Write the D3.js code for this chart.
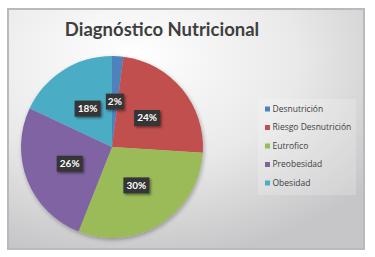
<!DOCTYPE html>
<html>
<head>
<meta charset="utf-8">
<script src="https://cdn.jsdelivr.net/npm/d3@7"></script>
<style>
  body { margin: 0; background: #fff; }
  svg { display: block; }
</style>
</head>
<body>
<div id="chart"></div>
<script>
const categories = ["Desnutrición", "Riesgo Desnutrición", "Eutrofico", "Preobesidad", "Obesidad"];
const values = [2, 24, 30, 26, 18];
const colors = ["#4f81bd", "#c0504d", "#9bbb59", "#8064a2", "#4bacc6"];

const width = 375, height = 257;
const cx = 112, cy = 147, radius = 91;

const svg = d3.select("#chart").append("svg")
    .attr("width", width)
    .attr("height", height);

const defs = svg.append("defs");
const grad = defs.append("radialGradient")
    .attr("id", "bg")
    .attr("cx", "35%").attr("cy", "20%").attr("r", "85%");
grad.append("stop").attr("offset", "0%").attr("stop-color", "#ffffff");
grad.append("stop").attr("offset", "55%").attr("stop-color", "#e9e9e9");
grad.append("stop").attr("offset", "100%").attr("stop-color", "#c6c6c8");

const shadow = defs.append("filter").attr("id", "shadow")
    .attr("x", "-20%").attr("y", "-20%").attr("width", "140%").attr("height", "140%");
shadow.append("feDropShadow")
    .attr("dx", 1).attr("dy", 2).attr("stdDeviation", 2)
    .attr("flood-color", "#000").attr("flood-opacity", 0.3);

const lblShadow = defs.append("filter").attr("id", "lblshadow")
    .attr("x", "-30%").attr("y", "-30%").attr("width", "160%").attr("height", "160%");
lblShadow.append("feDropShadow")
    .attr("dx", 1.5).attr("dy", 1.5).attr("stdDeviation", 1)
    .attr("flood-color", "#000").attr("flood-opacity", 0.45);

// frame
svg.append("rect")
    .attr("x", 8).attr("y", 9)
    .attr("width", 356).attr("height", 240)
    .attr("fill", "url(#bg)")
    .attr("stroke", "#b9b9c1")
    .attr("stroke-width", 2);

svg.append("text")
    .attr("x", 162).attr("y", 36)
    .attr("text-anchor", "middle")
    .attr("font-family", "Lato, 'Open Sans', sans-serif")
    .attr("font-weight", "bold")
    .attr("font-size", 18.5)
    .attr("fill", "#3f3f3f")
    .text("Diagnóstico Nutricional");

const pie = d3.pie().sort(null).value(d => d)(values);
const arc = d3.arc().innerRadius(0).outerRadius(radius);
const labelArc = d3.arc().innerRadius(radius * 0.5).outerRadius(radius * 0.5);

const g = svg.append("g").attr("transform", `translate(${cx},${cy})`);

g.append("g")
    .attr("filter", "url(#shadow)")
    .selectAll("path")
    .data(pie)
    .enter()
    .append("path")
    .attr("d", arc)
    .attr("fill", (d, i) => colors[i]);

const labels = g.selectAll(".lbl")
    .data(pie)
    .enter()
    .append("g")
    .attr("class", "lbl")
    .attr("transform", d => `translate(${labelArc.centroid(d)})`);

labels.append("rect")
    .attr("x", d => d.data >= 10 ? -13 : -9)
    .attr("y", -8)
    .attr("width", d => d.data >= 10 ? 26 : 18)
    .attr("height", 16)
    .attr("fill", "#363636")
    .attr("filter", "url(#lblshadow)");

labels.append("text")
    .attr("text-anchor", "middle")
    .attr("dy", "0.35em")
    .attr("font-family", "Lato, 'Open Sans', sans-serif")
    .attr("font-weight", "bold")
    .attr("font-size", 10)
    .attr("fill", "#ffffff")
    .text(d => d.data + "%");

// legend
const legend = svg.append("g").attr("transform", "translate(258,99)");
legend.append("rect")
    .attr("width", 98).attr("height", 96)
    .attr("fill", "#ffffff").attr("opacity", 0.2);

const items = legend.selectAll(".item")
    .data(categories)
    .enter()
    .append("g")
    .attr("transform", (d, i) => `translate(7,${10 + i * 18.5})`);

items.append("rect")
    .attr("x", 0).attr("y", -2.5)
    .attr("width", 5).attr("height", 5)
    .attr("fill", (d, i) => colors[i]);

items.append("text")
    .attr("x", 7.5)
    .attr("dy", "0.35em")
    .attr("font-family", "'Open Sans', sans-serif")
    .attr("font-size", 8.5)
    .attr("fill", "#404040")
    .text(d => d);
</script>
</body>
</html>
